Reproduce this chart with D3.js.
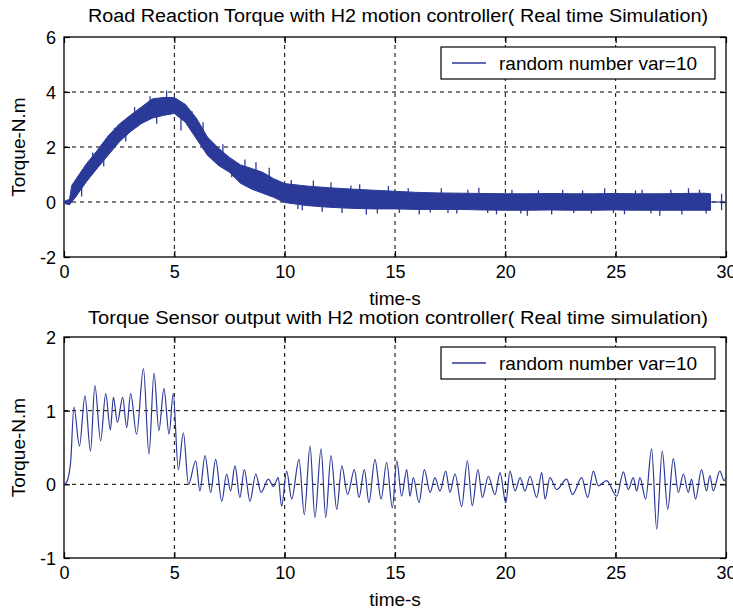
<!DOCTYPE html>
<html>
<head>
<meta charset="utf-8">
<script src="https://cdn.jsdelivr.net/npm/d3@7"></script>
<style>
  body { margin: 0; background: #fff; }
  text { font-family: "Liberation Sans", Arial, sans-serif; fill: #000; }
</style>
</head>
<body>
<div id="chart"></div>
<script>
// top plot: noisy band (lower / upper edge)
const topT = [0, 0.25, 0.35, 0.5, 1, 1.5, 2, 2.5, 3, 3.5, 4, 4.5, 5, 5.5, 6, 6.5, 7, 7.5, 8, 8.5, 9, 9.5, 10,
  11, 12, 13, 14, 15, 16, 17, 18, 19, 20, 21, 22, 23, 24, 25, 26, 27, 28, 29, 29.3]
const topLo = [-0.05, -0.1, 0.0, 0.15, 0.72, 1.22, 1.7, 2.18, 2.55, 2.85, 3.05, 3.15, 3.22, 2.9, 2.3, 1.7, 1.33, 1.08, 0.68, 0.47, 0.32, 0.17, -0.02,
  -0.13, -0.19, -0.23, -0.25, -0.25, -0.27, -0.27, -0.27, -0.29, -0.3, -0.3, -0.29, -0.3, -0.3, -0.29, -0.3, -0.3, -0.3, -0.3, -0.3]
const topHi = [0.02, 0.1, 0.6, 0.78, 1.37, 1.87, 2.4, 2.83, 3.15, 3.45, 3.75, 3.8, 3.8, 3.55, 3.05, 2.36, 1.96, 1.62, 1.35, 1.22, 1.08, 0.85, 0.67,
  0.58, 0.52, 0.47, 0.43, 0.39, 0.35, 0.33, 0.32, 0.31, 0.3, 0.3, 0.31, 0.3, 0.3, 0.31, 0.3, 0.3, 0.31, 0.32, 0.3]
// single spikes sticking out of the band
const spikeT = [0.8, 1.3, 1.8, 2.3, 2.8, 3.2, 3.9, 4.2, 4.65, 5.3, 5.8, 6.3, 6.8, 7.2, 7.6, 8.2, 8.7, 9.3, 9.8,
  10.3, 10.6, 10.8, 11.3, 11.7, 12.1, 12.6, 13.0, 13.4, 13.7, 14.2, 14.7, 15.2, 15.6, 16.1, 16.6, 17.1, 17.4,
  17.8, 18.3, 18.8, 19.2, 19.6, 20.3, 20.7, 21.0, 21.5, 22.1, 22.6, 23.1, 23.5, 23.9, 24.5, 24.9, 25.4, 25.9,
  26.2, 26.6, 27.0, 27.5, 28.0, 28.3, 28.8, 29.1, 29.8, 29.8]
const spikeV = [0.2, 1.8, 1.3, 2.7, 2.2, 3.45, 3.85, 2.85, 4.05, 2.6, 3.3, 2.9, 1.5, 2.1, 0.9, 1.55, 1.45, 1.25, 0.2,
  0.8, -0.25, -0.3, 0.78, -0.35, 0.72, -0.4, 0.6, 0.65, -0.45, -0.42, 0.58, -0.4, 0.5, -0.45, -0.38, 0.5, -0.4,
  -0.42, 0.45, 0.52, -0.4, -0.45, 0.45, -0.42, -0.5, 0.42, -0.45, 0.45, -0.4, 0.42, -0.42, 0.5, -0.4, -0.45, 0.42,
  0.45, -0.42, -0.5, 0.45, -0.45, 0.5, 0.45, -0.42, 0.3, -0.3]
const tailT = [29.3, 30]
const tailV = [0, 0]

// bottom plot: sensor output (peaks and troughs)
const botT = [0, 0.12, 0.3, 0.45, 0.7, 0.95, 1.2, 1.4, 1.66, 1.89, 2.1, 2.24, 2.42, 2.66, 2.84, 3.02, 3.29, 3.6, 3.85, 4.08,
  4.3, 4.53, 4.76, 4.95, 5.18, 5.41, 5.64, 5.97, 6.16, 6.39, 6.65, 6.87, 7.15, 7.37, 7.55, 7.75, 7.97, 8.17, 8.43, 8.69,
  8.93, 9.26, 9.49, 9.71, 9.86, 10.09, 10.32, 10.65, 10.89, 11.15, 11.37, 11.65, 11.86, 12.1, 12.36, 12.59, 12.85, 13.16, 13.37, 13.61,
  13.82, 14.09, 14.37, 14.62, 14.88, 15.08, 15.3, 15.53, 15.68, 15.83, 16.09, 16.33, 16.59, 16.81, 17.04, 17.3, 17.49, 17.72, 18.02, 18.28,
  18.5, 18.76, 18.96, 19.23, 19.53, 19.76, 20.02, 20.21, 20.44, 20.67, 20.89, 21.12, 21.42, 21.65, 21.8, 22.02, 22.33, 22.78, 23.04, 23.46,
  23.73, 23.99, 24.21, 24.59, 25.05, 25.35, 25.57, 25.8, 25.95, 26.1, 26.36, 26.63, 26.86, 27.11, 27.36, 27.61, 27.84, 28.07, 28.29, 28.44,
  28.62, 28.89, 29.12, 29.27, 29.42, 29.72, 29.92, 30]
const botV = [0, 0.03, 0.3, 1.05, 0.52, 1.2, 0.45, 1.34, 0.59, 1.23, 0.74, 1.18, 0.84, 1.18, 0.77, 1.23, 0.68, 1.57, 0.41, 1.51,
  0.73, 1.3, 0.68, 1.23, 0.2, 0.7, 0.0, 0.32, -0.09, 0.39, -0.11, 0.34, -0.23, 0.14, -0.09, 0.25, -0.18, 0.2, -0.23, 0.14,
  -0.11, 0.07, -0.03, 0.09, -0.3, 0.18, -0.2, 0.34, -0.41, 0.52, -0.45, 0.48, -0.45, 0.39, -0.34, 0.25, -0.14, 0.2, -0.18, 0.2,
  -0.25, 0.34, -0.2, 0.3, -0.32, 0.32, -0.16, 0.2, -0.16, 0.09, -0.25, 0.2, -0.11, 0.09, -0.09, 0.18, -0.11, 0.14, -0.3, 0.32,
  -0.29, 0.2, -0.18, 0.11, -0.14, 0.16, -0.25, 0.18, -0.09, 0.09, -0.09, 0.11, -0.18, 0.16, -0.2, 0.09, -0.07, 0.07, -0.14, 0.09,
  -0.18, 0.18, -0.02, 0.05, -0.16, 0.17, -0.07, 0.09, -0.09, 0.09, -0.2, 0.48, -0.61, 0.45, -0.34, 0.35, -0.11, 0.14, -0.11, 0.07,
  -0.2, 0.2, -0.09, 0.12, -0.09, 0.18, 0.05, 0.1]

const xTicks = [0, 5, 10, 15, 20, 25, 30]
const topYTicks = [-2, 0, 2, 4, 6]
const botYTicks = [-1, 0, 1, 2]
const legendLabel = 'random number var=10'

const width = 733
const height = 616
const left = 64
const right = 726
const lineColor = '#2b3a98'

const svg = d3
  .select('#chart')
  .append('svg')
  .attr('width', width)
  .attr('height', height)

const scaleX = d3.scaleLinear().domain([0, 30]).range([left, right])

const plotLayer = svg.append('g')
const dataLayer = svg.append('g')
const legendLayer = svg.append('g')

// plain ascii labels, like the matlab figure
const plainNum = d => String(d)

// draws frame, grid, ticks, labels, legend for one subplot
function drawPanel(top, bottom, yDomain, yTicks, title, titleY) {
  const scaleY = d3.scaleLinear().domain(yDomain).range([bottom, top])
  const g = plotLayer.append('g')

  // grid
  g.append('g')
    .selectAll('line')
    .data(xTicks.slice(1, -1))
    .enter()
    .append('line')
    .attr('x1', d => scaleX(d)).attr('x2', d => scaleX(d))
    .attr('y1', top).attr('y2', bottom)
    .attr('stroke', '#000').attr('stroke-dasharray', '4,4')
  g.append('g')
    .selectAll('line')
    .data(yTicks.slice(1, -1))
    .enter()
    .append('line')
    .attr('y1', d => scaleY(d)).attr('y2', d => scaleY(d))
    .attr('x1', left).attr('x2', right)
    .attr('stroke', '#000').attr('stroke-dasharray', '4,4')

  // axes with inward ticks
  const ax = g.append('g')
    .attr('transform', 'translate(0,' + bottom + ')')
    .call(d3.axisBottom(scaleX).tickValues(xTicks).tickSize(-6).tickPadding(8).tickFormat(plainNum))
  g.append('g')
    .attr('transform', 'translate(0,' + top + ')')
    .call(d3.axisTop(scaleX).tickValues(xTicks).tickSize(-6).tickFormat(''))
  const ay = g.append('g')
    .attr('transform', 'translate(' + left + ',0)')
    .call(d3.axisLeft(scaleY).tickValues(yTicks).tickSize(-6).tickPadding(8).tickFormat(plainNum))
  g.append('g')
    .attr('transform', 'translate(' + right + ',0)')
    .call(d3.axisRight(scaleY).tickValues(yTicks).tickSize(-6).tickFormat(''))
  g.selectAll('.domain').remove()
  g.selectAll('.tick line').attr('stroke', '#000').attr('stroke-width', 1.2)
  ax.selectAll('text').style('font-size', '18px')
  ay.selectAll('text').style('font-size', '18px').attr('dy', '0.36em')

  g.append('rect')
    .attr('x', left).attr('y', top)
    .attr('width', right - left).attr('height', bottom - top)
    .attr('fill', 'none').attr('stroke', '#000').attr('stroke-width', 1.3)

  // titles
  g.append('text')
    .attr('x', (left + right) / 2 + 3).attr('y', titleY)
    .attr('text-anchor', 'middle')
    .style('font-size', '18px')
    .attr('textLength', 620).attr('lengthAdjust', 'spacingAndGlyphs')
    .text(title)
  g.append('text')
    .attr('x', (left + right) / 2).attr('y', bottom + 48)
    .attr('text-anchor', 'middle')
    .style('font-size', '19px')
    .text('time-s')
  g.append('text')
    .attr('transform', 'translate(25,' + (top + bottom) / 2 + ') rotate(-90)')
    .attr('text-anchor', 'middle')
    .style('font-size', '19px')
    .text('Torque-N.m')

  // legend
  const lg = legendLayer.append('g').attr('transform', 'translate(441,' + (top + 10) + ')')
  lg.append('rect')
    .attr('width', 274).attr('height', 32)
    .attr('fill', '#fff').attr('stroke', '#000').attr('stroke-width', 1.2)
  lg.append('line')
    .attr('x1', 11).attr('x2', 45).attr('y1', 16).attr('y2', 16)
    .attr('stroke', lineColor).attr('stroke-width', 1.3)
  lg.append('text')
    .attr('x', 58).attr('y', 23)
    .style('font-size', '19px')
    .text(legendLabel)

  return scaleY
}

// top subplot
const yTop = drawPanel(37, 257, [-2, 6], topYTicks,
  'Road Reaction Torque with H2 motion controller( Real time Simulation)', 22)

const bandData = topT.map((t, i) => ({ t: t, lo: topLo[i], hi: topHi[i] }))
dataLayer.append('path')
  .datum(bandData)
  .attr('fill', lineColor)
  .attr('stroke', lineColor)
  .attr('stroke-width', 1)
  .attr('d', d3.area().x(d => scaleX(d.t)).y0(d => yTop(d.lo)).y1(d => yTop(d.hi)))

const midOf = d3.scaleLinear().domain(topT).range(topT.map((t, i) => (topLo[i] + topHi[i]) / 2))
dataLayer.append('g')
  .selectAll('line')
  .data(spikeT.map((t, i) => ({ t: t, v: spikeV[i] })))
  .enter()
  .append('line')
  .attr('x1', d => scaleX(d.t)).attr('x2', d => scaleX(d.t))
  .attr('y1', d => yTop(d.t > 29.3 ? 0 : midOf(d.t))).attr('y2', d => yTop(d.v))
  .attr('stroke', lineColor).attr('stroke-width', 1.3)

dataLayer.append('path')
  .datum(tailT.map((t, i) => ({ t: t, v: tailV[i] })))
  .attr('fill', 'none').attr('stroke', lineColor).attr('stroke-width', 1.2)
  .attr('d', d3.line().x(d => scaleX(d.t)).y(d => yTop(d.v)))

// bottom subplot
const yBot = drawPanel(337, 558, [-1, 2], botYTicks,
  'Torque Sensor output with H2 motion controller( Real time simulation)', 324)

dataLayer.append('path')
  .datum(botT.map((t, i) => ({ t: t, v: botV[i] })))
  .attr('fill', 'none')
  .attr('stroke', lineColor)
  .attr('stroke-width', 1.2)
  .attr('d', d3.line().curve(d3.curveMonotoneX).x(d => scaleX(d.t)).y(d => yBot(d.v)))
</script>
</body>
</html>
